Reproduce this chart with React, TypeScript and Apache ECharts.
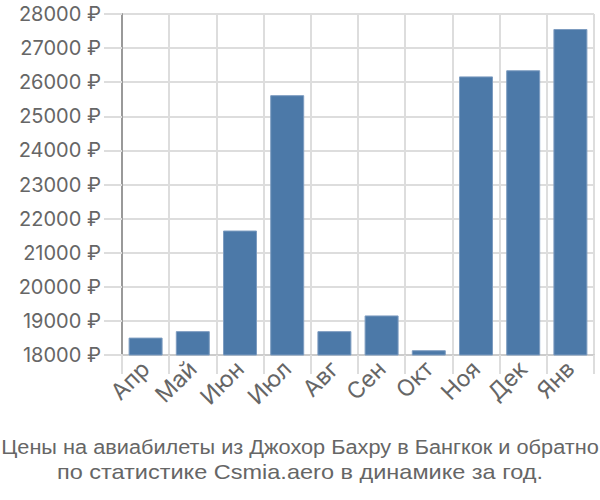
import React, { useEffect, useRef } from "react";
import * as echarts from "echarts";

const categories = ["Апр", "Май", "Июн", "Июл", "Авг", "Сен", "Окт", "Ноя", "Дек", "Янв"];
const prices = [18510, 18700, 21650, 25620, 18700, 19160, 18140, 26170, 26350, 27560];
const titleLines = [
  "Цены на авиабилеты из Джохор Бахру в Бангкок и обратно",
  "по статистике Csmia.aero в динамике за год.",
];

export default function App() {
  const ref = useRef<HTMLDivElement>(null);
  useEffect(() => {
    if (!ref.current) return;
    const chart = echarts.init(ref.current, undefined, { renderer: "svg" });
    const titleStyle = {
      fontFamily: "Liberation Sans",
      fontSize: 21,
      fill: "#666",
      align: "center",
      verticalAlign: "middle",
    };
    chart.setOption({
      animation: false,
      grid: { left: 122, right: 6, top: 14, bottom: 145 },
      xAxis: {
        type: "category",
        data: categories,
        axisLine: { show: true, lineStyle: { color: "#ccc", width: 2 } },
        axisTick: { show: true, length: 19, interval: 0, lineStyle: { color: "#ddd", width: 2 } },
        splitLine: { show: true, interval: 0, lineStyle: { color: "#ddd", width: 2 } },
        axisLabel: {
          rotate: 45,
          interval: 0,
          fontSize: 23,
          color: "#666",
          fontFamily: "Inter",
          margin: 10,
        },
      },
      yAxis: {
        type: "value",
        min: 18000,
        max: 28000,
        interval: 1000,
        axisLine: { show: true, lineStyle: { color: "#999", width: 2 } },
        axisTick: { show: true, length: 18, lineStyle: { color: "#ddd", width: 2 } },
        splitLine: { show: true, lineStyle: { color: "#ddd", width: 2 } },
        axisLabel: {
          formatter: (v: number) => `${v} ₽`,
          fontSize: 20,
          color: "#666",
          fontFamily: "Inter",
          margin: 21,
        },
      },
      series: [
        {
          type: "bar",
          data: prices,
          barWidth: "72%",
          itemStyle: { color: "#4c79a8", borderColor: "#7d9cc0", borderWidth: 1 },
        },
      ],
      graphic: [
        {
          type: "line",
          shape: { x1: 122, y1: 355, x2: 122, y2: 374 },
          style: { stroke: "#999", lineWidth: 2 },
        },
        {
          type: "text",
          x: 300,
          y: 447,
          scaleX: 1.035,
          style: { ...titleStyle, text: titleLines[0] },
        },
        {
          type: "text",
          x: 300,
          y: 472,
          scaleX: 1.12,
          style: { ...titleStyle, text: titleLines[1] },
        },
      ],
    });
    return () => chart.dispose();
  }, []);
  return (
    <div
      ref={ref}
      style={{ position: "absolute", left: 0, top: 0, width: 600, height: 500 }}
    />
  );
}
